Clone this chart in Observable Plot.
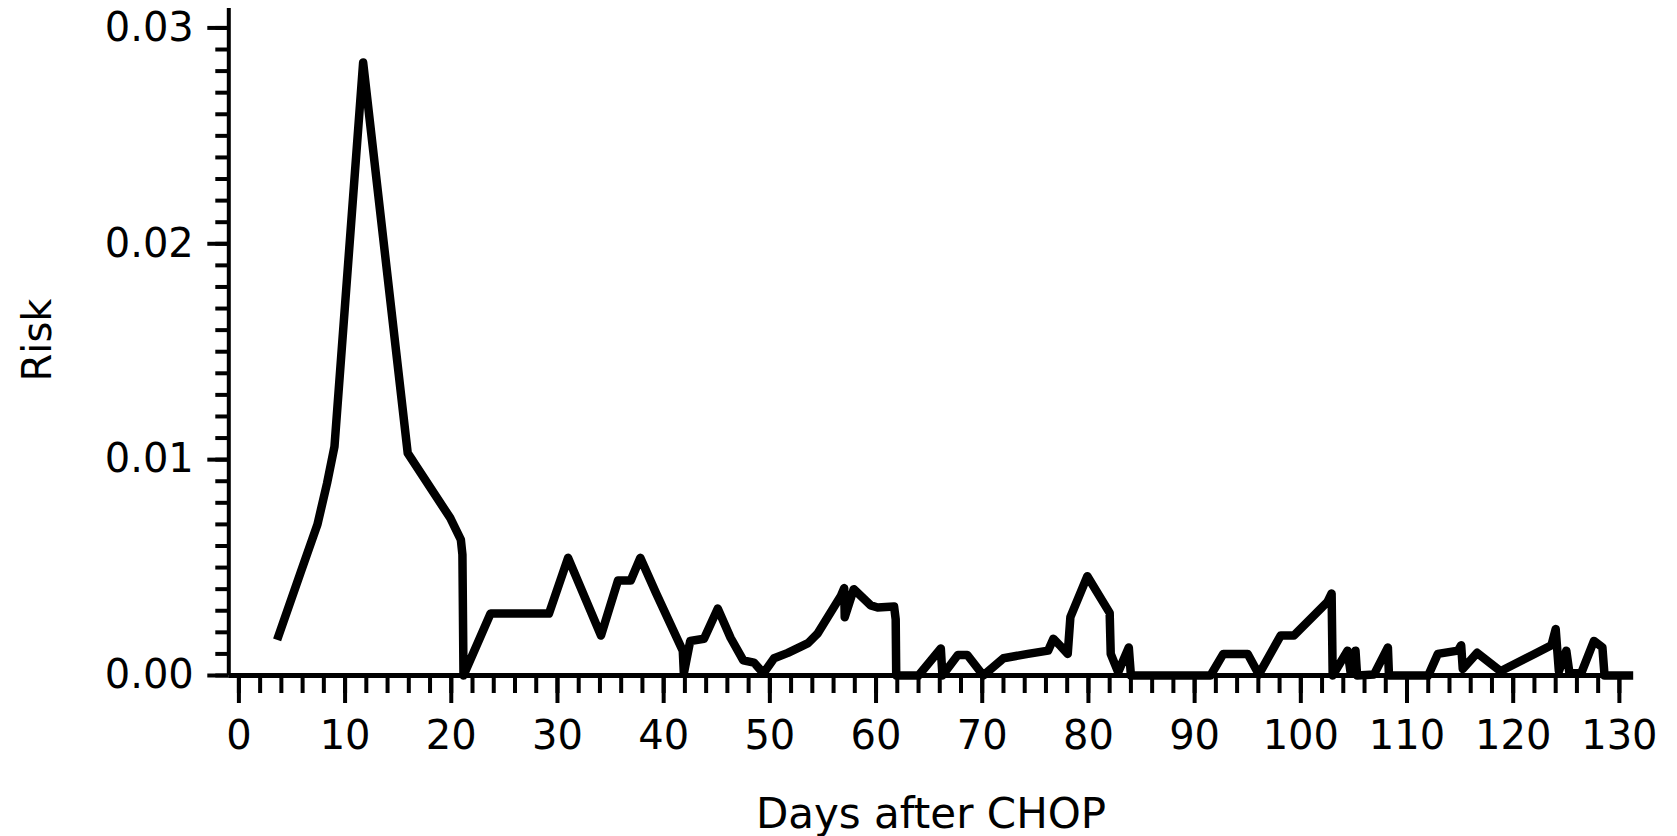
<!DOCTYPE html>
<html>
<head>
<meta charset="utf-8">
<script src="https://cdn.jsdelivr.net/npm/d3@7"></script>
<script src="https://cdn.jsdelivr.net/npm/@observablehq/plot@0.6"></script>
<style>
  html, body { margin: 0; padding: 0; background: #fff; }
  svg { display: block; }
</style>
</head>
<body>
<div id="chart"></div>
<script>
// Days after CHOP (x) and estimated risk (y)
const days = [
  3.6, 5.8, 7.4, 8.3, 9.0, 11.7, 15.9, 19.9, 20.9, 21.05, 21.15,
  23.7, 29.2, 31.0, 34.1, 35.7, 36.9, 37.8, 39.3, 41.8, 41.9,
  42.5, 43.8, 45.1, 46.3, 47.5, 48.5, 49.4, 50.4, 51.7, 53.6, 54.5,
  56.7, 57.0, 57.05, 57.9, 59.5, 60.15, 61.7, 61.85, 61.9,
  64.0, 66.1, 66.25, 67.7, 68.6, 70.1, 72.0, 74.3, 76.2, 76.7, 77.4, 78.05,
  78.3, 79.9, 82.0, 82.1, 82.8, 83.8, 84.0,
  91.5, 92.7, 95.0, 96.05, 98.1, 99.35, 102.5, 102.9, 103.0,
  104.4, 104.7, 105.15, 105.3, 106.9, 108.2, 108.3,
  112.0, 112.9, 114.8, 115.1, 115.25, 116.6, 118.8, 122.0, 123.6, 124.0, 124.3,
  125.0, 125.3, 126.4, 127.6, 128.4, 128.6, 131.3
];
const risk = [
  0.00165, 0.00475, 0.0070, 0.0089, 0.0106, 0.0284, 0.0103, 0.0073, 0.0063, 0.0056, 0.0,
  0.00287, 0.00287, 0.00545, 0.00185, 0.0044, 0.0044, 0.00545, 0.0038, 0.00115, 0.0001,
  0.0016, 0.0017, 0.0031, 0.00175, 0.0007, 0.0006, 0.0001, 0.0008, 0.00105, 0.0015, 0.00195,
  0.0037, 0.00405, 0.0027, 0.0040, 0.00325, 0.00315, 0.0032, 0.0026, 0.0,
  0.0, 0.00125, 0.0, 0.00095, 0.00095, 0.0, 0.0008, 0.0010, 0.00115, 0.0017, 0.00135, 0.0010,
  0.0027, 0.0046, 0.0029, 0.0010, 0.00015, 0.0013, 0.0,
  0.0, 0.0010, 0.0010, 0.00005, 0.00185, 0.00185, 0.0034, 0.0038, 0.0,
  0.00115, 0.0001, 0.00115, 0.0, 0.00005, 0.0013, 0.0,
  0.0, 0.0010, 0.00115, 0.0014, 0.0003, 0.00105, 0.0002, 0.0010, 0.0014, 0.00215, 0.0002,
  0.00115, 0.0001, 0.0001, 0.0016, 0.0013, 0.0, 0.0
];

const xDomain = [-0.95, 131.3];
const yDomain = [0, 0.0309];
const xMajorTicks = [0, 10, 20, 30, 40, 50, 60, 70, 80, 90, 100, 110, 120, 130];
const xMinorTicks = d3.range(0, 131, 2);
const yMajorTicks = [0, 0.01, 0.02, 0.03];
const yMinorTicks = d3.range(0, 31).map(i => i / 1000);
const xLabel = "Days after CHOP";
const yLabel = "Risk";

const data = days.map((d, i) => ({day: d, risk: risk[i]}));

const font = "DejaVu Sans";

const chart = Plot.plot({
  width: 1677,
  height: 836,
  marginLeft: 228.3,
  marginRight: 44.3,
  marginTop: 8,
  marginBottom: 161,
  style: {fontFamily: font, fontSize: "40px", color: "#000", background: "#fff"},
  x: {domain: xDomain},
  y: {domain: yDomain},
  marks: [
    Plot.axisX({ticks: xMinorTicks, tickSize: 18, strokeWidth: 4, fill: "none", label: null}),
    Plot.axisX({ticks: xMajorTicks, tickSize: 28, strokeWidth: 4, tickPadding: 17, fontSize: 40,
                fontFamily: font, tickFormat: d => String(d), label: null}),
    Plot.axisY({ticks: yMinorTicks, tickSize: 13, strokeWidth: 4, fill: "none", label: null}),
    Plot.axisY({ticks: yMajorTicks, tickSize: 21, strokeWidth: 4, tickPadding: 14, fontSize: 40,
                fontFamily: font, tickFormat: d3.format(".2f"), label: null}),
    Plot.ruleY([yDomain[0]], {strokeWidth: 5, stroke: "#000"}),
    Plot.ruleX([xDomain[0]], {strokeWidth: 4, stroke: "#000"}),
    Plot.line(data, {x: "day", y: "risk", stroke: "#000", strokeWidth: 8.5,
                     strokeLinejoin: "round", strokeLinecap: "butt"}),
    Plot.text([xLabel], {frameAnchor: "bottom", lineAnchor: "bottom", dy: 152, text: d => d,
                         fontSize: 42, fontFamily: font, fill: "#000"}),
    Plot.text([yLabel], {frameAnchor: "left", textAnchor: "middle", rotate: -90, dx: -191, dy: -2,
                         text: d => d, fontSize: 40, fontFamily: font, fill: "#000"})
  ]
});

document.getElementById("chart").appendChild(chart);
</script>
</body>
</html>
